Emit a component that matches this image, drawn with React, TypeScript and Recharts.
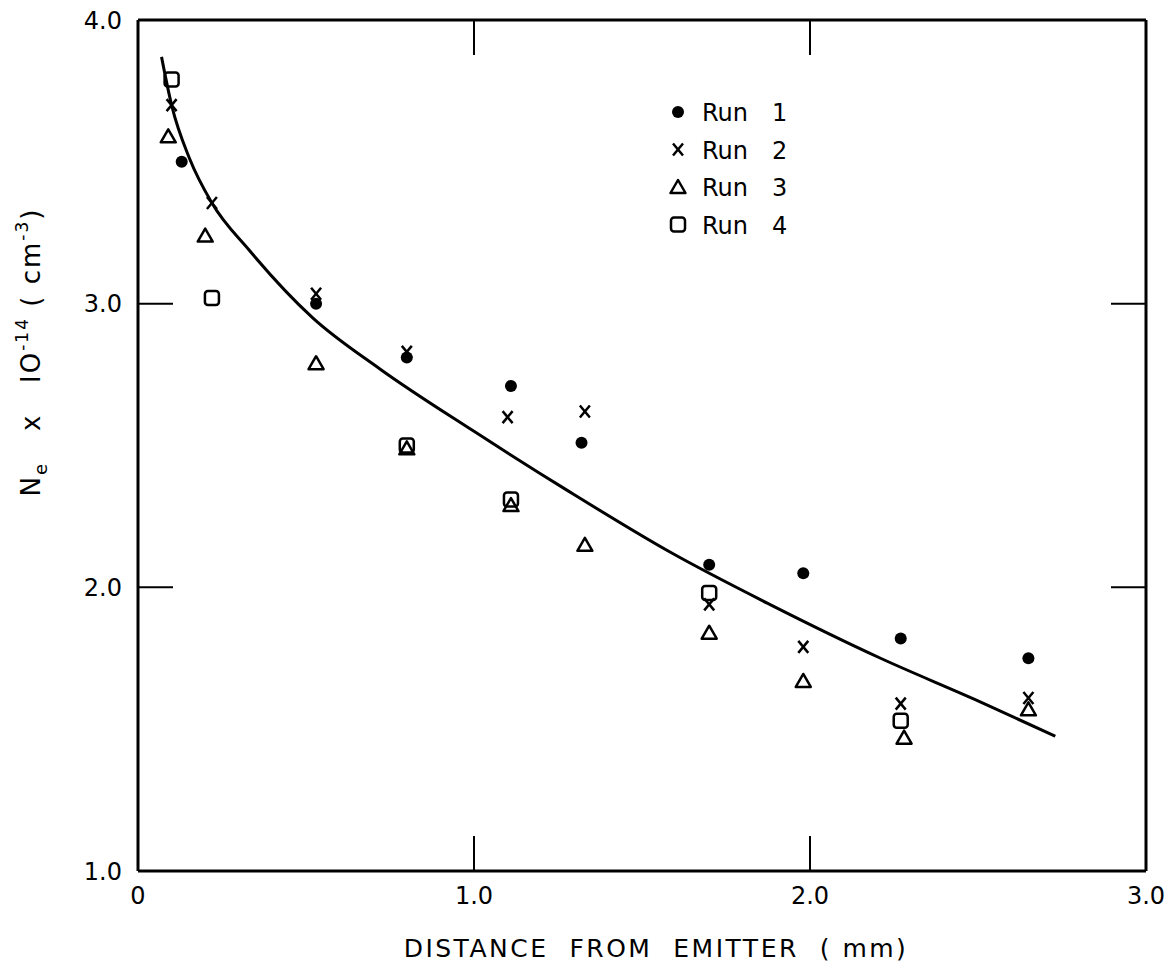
import React from "react"
import { ComposedChart, Line, Scatter, XAxis, YAxis } from "recharts"

// distance from emitter (mm) and Ne x 10^-14 (cm^-3)
const run1X = [0.13, 0.53, 0.8, 1.11, 1.32, 1.7, 1.98, 2.27, 2.65]
const run1Y = [3.5, 3.0, 2.81, 2.71, 2.51, 2.08, 2.05, 1.82, 1.75]

const run2X = [0.1, 0.22, 0.53, 0.8, 1.1, 1.33, 1.7, 1.98, 2.27, 2.65]
const run2Y = [3.7, 3.355, 3.035, 2.83, 2.6, 2.62, 1.94, 1.79, 1.59, 1.61]

const run3X = [0.09, 0.2, 0.53, 0.8, 1.11, 1.33, 1.7, 1.98, 2.28, 2.65]
const run3Y = [3.59, 3.24, 2.79, 2.49, 2.29, 2.15, 1.84, 1.67, 1.47, 1.57]

const run4X = [0.1, 0.22, 0.8, 1.11, 1.7, 2.27]
const run4Y = [3.79, 3.02, 2.5, 2.31, 1.98, 1.53]

const fitX = [0.07, 0.1, 0.154, 0.22, 0.33, 0.52, 0.72, 1.0, 1.28, 1.59, 1.88, 2.21, 2.5, 2.73]
const fitY = [3.87, 3.7, 3.51, 3.355, 3.19, 2.95, 2.77, 2.55, 2.34, 2.12, 1.94, 1.75, 1.6, 1.475]

const xTicks = [0, 1, 2, 3]
const xTickLabels = ["0", "1.0", "2.0", "3.0"]
const yTicks = [1, 2, 3, 4]
const yTickLabels = ["1.0", "2.0", "3.0", "4.0"]
const topTicks = [1, 2]
const rightTicks = [2, 3]

const runNames = ["Run  1", "Run  2", "Run  3", "Run  4"]

const zip = (xs: number[], ys: number[]) => xs.map((x, i) => ({ x, y: ys[i] }))

const run1 = zip(run1X, run1Y)
const run2 = zip(run2X, run2Y)
const run3 = zip(run3X, run3Y)
const run4 = zip(run4X, run4Y)
const fit = zip(fitX, fitY)

const FONT = "'DejaVu Sans', sans-serif"
const INK = "#000"

const Dot = ({ cx, cy }: any) => <circle cx={cx} cy={cy} r={6} fill={INK} />

const Cross = ({ cx, cy }: any) => (
  <g stroke={INK} strokeWidth={2.5}>
    <line x1={cx - 5} y1={cy - 6} x2={cx + 5} y2={cy + 6} />
    <line x1={cx + 5} y1={cy - 6} x2={cx - 5} y2={cy + 6} />
  </g>
)

const Tri = ({ cx, cy }: any) => (
  <path
    d={`M${cx},${cy - 7} L${cx + 7.5},${cy + 6} L${cx - 7.5},${cy + 6} Z`}
    fill="none"
    stroke={INK}
    strokeWidth={2.5}
    strokeLinejoin="round"
  />
)

const Sq = ({ cx, cy }: any) => (
  <rect x={cx - 7} y={cy - 7} width={14} height={14} rx={3} fill="none" stroke={INK} strokeWidth={2.5} />
)

const Nothing = () => <g />

const shapes = [Dot, Cross, Tri, Sq]

const LegendBox = () => (
  <svg width={200} height={160} style={{ position: "absolute", left: 660, top: 94 }}>
    {runNames.map((name, i) => {
      const Shape = shapes[i]
      const cy = 18 + i * 37.5
      const [word, num] = name.split("  ")
      return (
        <g key={name}>
          <Shape cx={18} cy={cy} />
          <text x={42} y={cy + 9} fontFamily={FONT} fontSize={24} fill={INK}>
            {word}
          </text>
          <text x={112} y={cy + 9} fontFamily={FONT} fontSize={24} fill={INK}>
            {num}
          </text>
        </g>
      )
    })}
  </svg>
)

const YTitle = () => (
  <text
    x={40}
    y={352}
    transform="rotate(-90, 40, 352)"
    textAnchor="middle"
    fontFamily={FONT}
    fontSize={26}
    letterSpacing={2}
    fill={INK}
    style={{ whiteSpace: "pre" }}
  >
    N
    <tspan fontSize={18} dy={7}>e</tspan>
    <tspan dy={-7}>{"   x   IO"}</tspan>
    <tspan fontSize={17} dy={-12}>-14</tspan>
    <tspan dy={12}>{" ( cm"}</tspan>
    <tspan fontSize={17} dy={-12}>-3</tspan>
    <tspan dy={12}>)</tspan>
  </text>
)

export default function App() {
  return (
    <div style={{ position: "absolute", left: 0, top: 0, background: "#fff" }}>
      <ComposedChart width={1165} height={969} margin={{ top: 19, right: 18, bottom: 0, left: 0 }}>
        <XAxis
          xAxisId="b"
          dataKey="x"
          type="number"
          domain={[0, 3]}
          ticks={xTicks}
          tickFormatter={(v) => xTickLabels[xTicks.indexOf(v)]}
          height={98}
          tickSize={-35}
          tickMargin={51}
          axisLine={{ stroke: INK, strokeWidth: 3 }}
          tickLine={{ stroke: INK, strokeWidth: 2 }}
          tick={{ fill: INK, fontSize: 24, fontFamily: FONT }}
          label={{
            content: () => (
              <text
                x={656}
                y={957}
                textAnchor="middle"
                fontFamily={FONT}
                fontSize={25}
                letterSpacing={2.5}
                fill={INK}
                style={{ whiteSpace: "pre" }}
              >
                {"DISTANCE  FROM  EMITTER  ( mm)"}
              </text>
            ),
          }}
        />
        <XAxis
          xAxisId="t"
          orientation="top"
          dataKey="x"
          type="number"
          domain={[0, 3]}
          allowDataOverflow
          ticks={topTicks}
          height={1}
          tickSize={-35}
          tickFormatter={() => ""}
          axisLine={{ stroke: INK, strokeWidth: 3 }}
          tickLine={{ stroke: INK, strokeWidth: 2 }}
        />
        <YAxis
          yAxisId="l"
          dataKey="y"
          type="number"
          domain={[1, 4]}
          ticks={yTicks}
          tickFormatter={(v) => yTickLabels[yTicks.indexOf(v)]}
          width={138}
          tickSize={-35}
          tickMargin={51}
          axisLine={{ stroke: INK, strokeWidth: 3 }}
          tickLine={{ stroke: INK, strokeWidth: 2 }}
          tick={{ fill: INK, fontSize: 24, fontFamily: FONT }}
          label={{ content: () => <YTitle /> }}
        />
        <YAxis
          yAxisId="r"
          orientation="right"
          dataKey="y"
          type="number"
          domain={[1, 4]}
          allowDataOverflow
          ticks={rightTicks}
          width={1}
          tickSize={-35}
          tickFormatter={() => ""}
          axisLine={{ stroke: INK, strokeWidth: 3 }}
          tickLine={{ stroke: INK, strokeWidth: 2 }}
        />
        <Line
          xAxisId="b"
          yAxisId="l"
          data={fit}
          dataKey="y"
          type="monotone"
          dot={false}
          activeDot={false}
          stroke={INK}
          strokeWidth={3}
          isAnimationActive={false}
        />
        {/* invisible series that ties the frame's top and right axes to the data */}
        <Scatter xAxisId="t" yAxisId="r" data={fit} shape={<Nothing />} isAnimationActive={false} />
        <Scatter xAxisId="b" yAxisId="l" name="Run 1" data={run1} shape={<Dot />} isAnimationActive={false} />
        <Scatter xAxisId="b" yAxisId="l" name="Run 2" data={run2} shape={<Cross />} isAnimationActive={false} />
        <Scatter xAxisId="b" yAxisId="l" name="Run 3" data={run3} shape={<Tri />} isAnimationActive={false} />
        <Scatter xAxisId="b" yAxisId="l" name="Run 4" data={run4} shape={<Sq />} isAnimationActive={false} />
      </ComposedChart>
      <LegendBox />
    </div>
  )
}
